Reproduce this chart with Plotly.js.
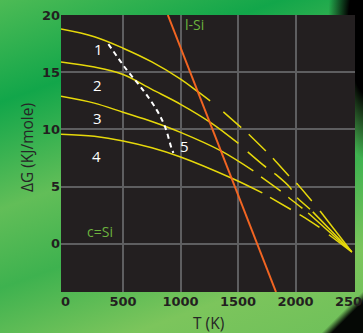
<!DOCTYPE html>
<html>
<head>
<meta charset="utf-8">
<script src="https://cdn.plot.ly/plotly-3.0.1.min.js"></script>
<style>
  html, body { margin: 0; padding: 0; width: 363px; height: 333px; overflow: hidden; }
  #chart {
    width: 363px; height: 333px;
    background:
      radial-gradient(ellipse 40px 130px at 368px 30px, #000 50%, rgba(0,0,0,0) 100%),
      linear-gradient(135deg, rgba(0,0,0,0) 94%, #050805 95.5%),
      linear-gradient(160deg, #4dbb55 0%, #12a64a 22%, #62be58 45%, #3eb24f 62%, #7cc55c 82%, #6ec05a 100%);
  }
</style>
</head>
<body>
<div id="chart"></div>
<script>
// ---- data (T in K, ΔG in kJ/mole) ----
const curve1X = [-40, 250, 500, 750, 1000, 1150, 1257];
const curve1Y = [18.77, 18.1, 17.1, 15.9, 14.4, 13.3, 12.5];
const curve2X = [-40, 250, 500, 750, 1000, 1265, 1503];
const curve2Y = [15.9, 15.45, 14.8, 13.5, 12.2, 10.58, 8.78];
const curve3X = [-40, 250, 500, 750, 1000, 1352, 1633];
const curve3Y = [12.9, 12.3, 11.5, 10.7, 9.75, 8.13, 6.38];
const curve4X = [-40, 250, 500, 750, 1000, 1451, 1711];
const curve4Y = [9.59, 9.4, 9.0, 8.4, 7.6, 5.72, 4.46];

const dash1X = [1372, 1503, 1570, 1735, 1793, 1937, 2019, 2155];
const dash1Y = [11.54, 10.38, 9.79, 8.19, 7.6, 6.0, 5.19, 3.58];
const dash2X = [1584, 1720, 1828, 1952, 2002, 2126];
const dash2Y = [8.04, 6.88, 6.07, 4.93, 4.15, 3.03];
const dash3X = [1700, 1880, 1961, 2060];
const dash3Y = [5.86, 4.55, 3.88, 3.1];
const dash4X = [1778, 1981, 2068, 2237];
const dash4Y = [4.06, 2.88, 2.36, 1.26];

const tail1X = [2213, 2489]; const tail1Y = [2.88, -0.7];
const tail2X = [2150, 2489]; const tail2Y = [2.8, -0.7];
const tail3X = [2110, 2489]; const tail3Y = [2.7, -0.7];
const tail4X = [2290, 2489]; const tail4Y = [0.8, -0.7];

const curve5X = [372, 532, 677, 793, 865, 923, 938];
const curve5Y = [17.46, 15.2, 13.4, 11.69, 10.23, 8.3, 7.95];

const liquidX = [889, 1830];
const liquidY = [20, -4.2];

const curveLabels = ['1', '2', '3', '4', '5'];
const labelX = [285, 277, 280, 271, 1035];
const labelY = [17.0, 13.87, 10.96, 7.69, 8.54];
const phaseLabels = ['l-Si', 'c=Si'];
const phaseX = [1120, 300];
const phaseY = [19.18, 1.05];

const gridTicks = [500, 1000, 1500, 2000];
const xTicks = [0, 500, 1000, 1500, 2000, 2500];
const yTicks = [0, 5, 10, 15, 20];

// ---- styling ----
const YEL = '#e6d80a';
const solid = (x, y) => ({x, y, type: 'scatter', mode: 'lines', line: {color: YEL, width: 1.5, shape: 'spline', smoothing: 1}, hoverinfo: 'skip', showlegend: false});
const dashed = (x, y) => ({x, y, type: 'scatter', mode: 'lines', line: {color: YEL, width: 1.5, dash: '24px,10px', shape: 'spline', smoothing: 0.6}, hoverinfo: 'skip', showlegend: false});

const traces = [
  solid(curve1X, curve1Y), solid(curve2X, curve2Y), solid(curve3X, curve3Y), solid(curve4X, curve4Y),
  dashed(dash1X, dash1Y), dashed(dash2X, dash2Y), dashed(dash3X, dash3Y), dashed(dash4X, dash4Y),
  solid(tail1X, tail1Y), solid(tail2X, tail2Y), solid(tail3X, tail3Y), solid(tail4X, tail4Y),
  {x: curve5X, y: curve5Y, type: 'scatter', mode: 'lines', line: {color: '#ffffff', width: 2, dash: '5px,4px', shape: 'spline', smoothing: 1}, showlegend: false},
  {x: liquidX, y: liquidY, xaxis: 'x2', type: 'scatter', mode: 'lines', line: {color: '#f26522', width: 2}, showlegend: false}
];

const annotations = [];
curveLabels.forEach((t, i) => annotations.push({
  x: labelX[i], y: labelY[i], xref: 'x', yref: 'y', text: t, showarrow: false,
  font: {family: 'Open Sans', size: 15, color: '#ffffff'}
}));
phaseLabels.forEach((t, i) => annotations.push({
  x: phaseX[i], y: phaseY[i], xref: 'x', yref: 'y', text: t, showarrow: false,
  font: {family: 'Open Sans', size: 14, color: '#6cb33e'}
}));
annotations.push({
  x: -0.116, y: 0.523, xref: 'paper', yref: 'paper', xanchor: 'center', yanchor: 'middle',
  text: 'ΔG (KJ/mole)', textangle: -90,
  showarrow: false, font: {family: 'Open Sans', size: 15.5, color: '#262626'}
});
annotations.push({
  x: 0.5, y: -0.112, xref: 'paper', yref: 'paper', xanchor: 'center', yanchor: 'middle',
  text: 'T (K)',
  showarrow: false, font: {family: 'Open Sans', size: 15.5, color: '#262626'}
});

const tickFont = {family: 'DejaVu Sans', size: 13, color: '#231f20', weight: 'bold'};
const xr = [-40, 2517];
const layout = {
  width: 363, height: 333,
  margin: {l: 61, r: 8, t: 15, b: 41},
  paper_bgcolor: 'rgba(0,0,0,0)',
  plot_bgcolor: '#231f20',
  showlegend: false,
  xaxis: {range: xr, tickvals: gridTicks, showticklabels: false, showgrid: true,
          gridcolor: '#5e5e60', gridwidth: 2, zeroline: false, showline: false, ticks: ''},
  xaxis2: {range: xr, overlaying: 'x', side: 'bottom', tickvals: xTicks, showgrid: false,
           zeroline: false, showline: false, ticks: '', tickfont: tickFont, ticklabeloverflow: 'allow'},
  yaxis: {range: [-4.2, 20], tickvals: yTicks, showgrid: true, gridcolor: '#5e5e60', gridwidth: 2,
          zeroline: false, showline: false, ticks: '', tickfont: tickFont},
  annotations: annotations
};

Plotly.newPlot('chart', traces, layout, {staticPlot: true, displayModeBar: false});
</script>
</body>
</html>
